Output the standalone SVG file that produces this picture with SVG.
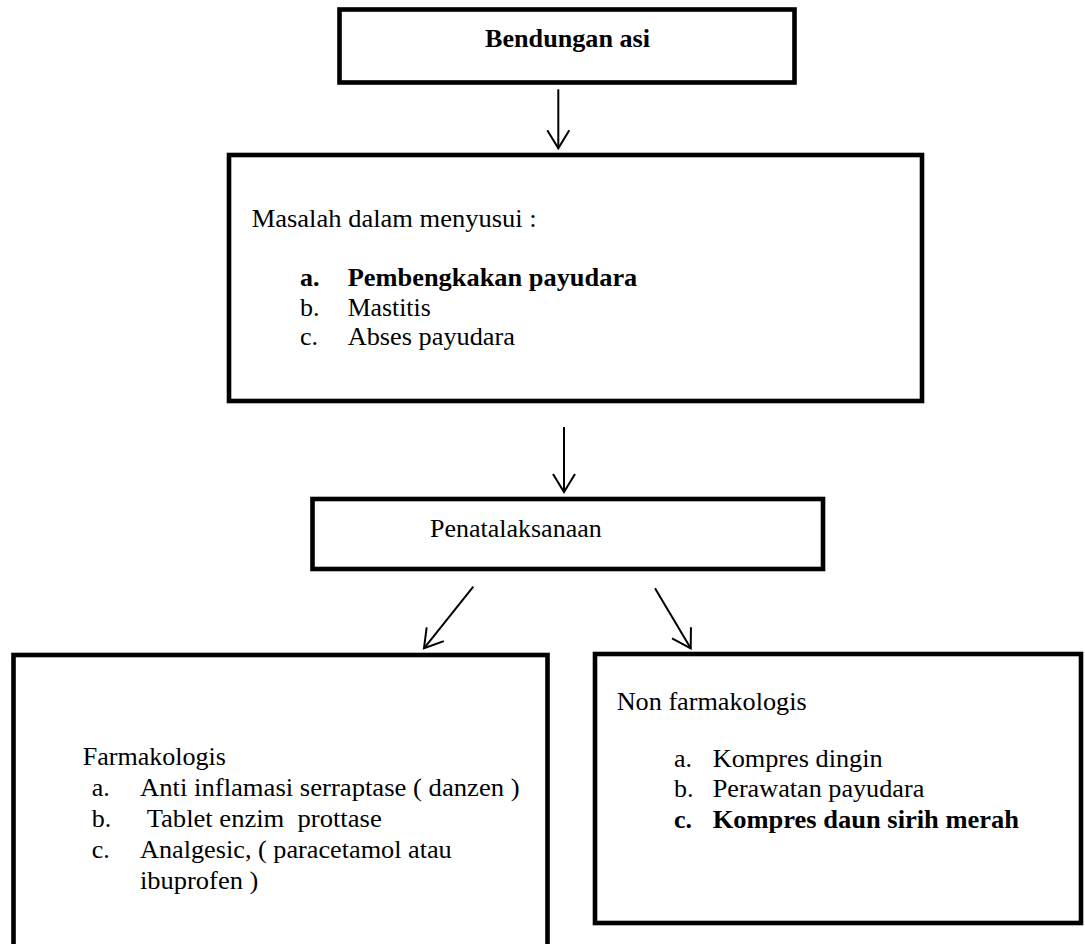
<svg xmlns="http://www.w3.org/2000/svg" width="1085" height="944" viewBox="0 0 1085 944">
<style>
.box{fill:#fff;stroke:#000;stroke-width:4.6}
.conn{stroke:#000;stroke-width:2;fill:none}
</style>
<defs>
<marker id="arr" markerUnits="userSpaceOnUse" markerWidth="26" markerHeight="26" viewBox="-21 -13 24 26" refX="0" refY="0" orient="auto">
<path d="M-18,-11 L0,0 L-18,11" fill="none" stroke="#000" stroke-width="2"/>
</marker>
</defs>
<rect width="1085" height="944" fill="#fff"/>
<g id="node-bendungan">
<rect class="box" x="339.5" y="9.5" width="455" height="73"/>
<text x="485" y="47" font-family="Liberation Serif" font-size="26" font-weight="bold" textLength="165" lengthAdjust="spacingAndGlyphs">Bendungan asi</text>
</g>
<g id="node-masalah">
<rect class="box" x="229" y="155" width="693" height="246"/>
<text x="251.7" y="227.3" font-family="Liberation Serif" font-size="26" textLength="285" lengthAdjust="spacingAndGlyphs">Masalah dalam menyusui :</text>
<text x="300" y="285.7" font-family="Liberation Serif" font-size="26" font-weight="bold">a.</text>
<text x="347.7" y="285.7" font-family="Liberation Serif" font-size="26" font-weight="bold" textLength="289.6" lengthAdjust="spacingAndGlyphs">Pembengkakan payudara</text>
<text x="300" y="315.7" font-family="Liberation Serif" font-size="26">b.</text>
<text x="347.7" y="315.7" font-family="Liberation Serif" font-size="26" textLength="83" lengthAdjust="spacingAndGlyphs">Mastitis</text>
<text x="300" y="345" font-family="Liberation Serif" font-size="26">c.</text>
<text x="347.7" y="345" font-family="Liberation Serif" font-size="26" textLength="167.3" lengthAdjust="spacingAndGlyphs">Abses payudara</text>
</g>
<g id="node-penatalaksanaan">
<rect class="box" x="312.5" y="499" width="510.5" height="70"/>
<text x="430" y="537" font-family="Liberation Serif" font-size="26" textLength="171.7" lengthAdjust="spacingAndGlyphs">Penatalaksanaan</text>
</g>
<g id="node-farmakologis">
<rect class="box" x="13.5" y="655" width="534" height="320"/>
<text x="82.7" y="765" font-family="Liberation Serif" font-size="26" textLength="143.3" lengthAdjust="spacingAndGlyphs">Farmakologis</text>
<text x="91.7" y="796" font-family="Liberation Serif" font-size="26">a.</text>
<text x="140" y="796" font-family="Liberation Serif" font-size="26" textLength="379.6" lengthAdjust="spacingAndGlyphs">Anti inflamasi serraptase ( danzen )</text>
<text x="91.7" y="826.7" font-family="Liberation Serif" font-size="26">b.</text>
<text x="146.7" y="826.7" font-family="Liberation Serif" font-size="26" style="white-space:pre" textLength="235" lengthAdjust="spacingAndGlyphs">Tablet enzim  prottase</text>
<text x="91.7" y="858" font-family="Liberation Serif" font-size="26">c.</text>
<text x="140" y="858" font-family="Liberation Serif" font-size="26" textLength="311.7" lengthAdjust="spacingAndGlyphs">Analgesic, ( paracetamol atau</text>
<text x="140" y="889" font-family="Liberation Serif" font-size="26" textLength="118.3" lengthAdjust="spacingAndGlyphs">ibuprofen )</text>
</g>
<g id="node-nonfarmakologis">
<rect class="box" x="595" y="654" width="486" height="269"/>
<text x="616.7" y="710" font-family="Liberation Serif" font-size="26" textLength="190" lengthAdjust="spacingAndGlyphs">Non farmakologis</text>
<text x="674" y="766.7" font-family="Liberation Serif" font-size="26">a.</text>
<text x="712.7" y="766.7" font-family="Liberation Serif" font-size="26" textLength="170" lengthAdjust="spacingAndGlyphs">Kompres dingin</text>
<text x="674" y="796.7" font-family="Liberation Serif" font-size="26">b.</text>
<text x="712.7" y="796.7" font-family="Liberation Serif" font-size="26" textLength="211.6" lengthAdjust="spacingAndGlyphs">Perawatan payudara</text>
<text x="674" y="828.3" font-family="Liberation Serif" font-size="26" font-weight="bold">c.</text>
<text x="712.7" y="828.3" font-family="Liberation Serif" font-size="26" font-weight="bold" textLength="306.3" lengthAdjust="spacingAndGlyphs">Kompres daun sirih merah</text>
</g>
<g id="connectors">
<line class="conn" x1="558.3" y1="89.3" x2="558.3" y2="148.3" marker-end="url(#arr)"/>
<line class="conn" x1="564" y1="427" x2="564" y2="492" marker-end="url(#arr)"/>
<line class="conn" x1="473.3" y1="586.7" x2="424" y2="648.3" marker-end="url(#arr)"/>
<line class="conn" x1="655" y1="588.3" x2="690.7" y2="648.3" marker-end="url(#arr)"/>
</g>
</svg>
